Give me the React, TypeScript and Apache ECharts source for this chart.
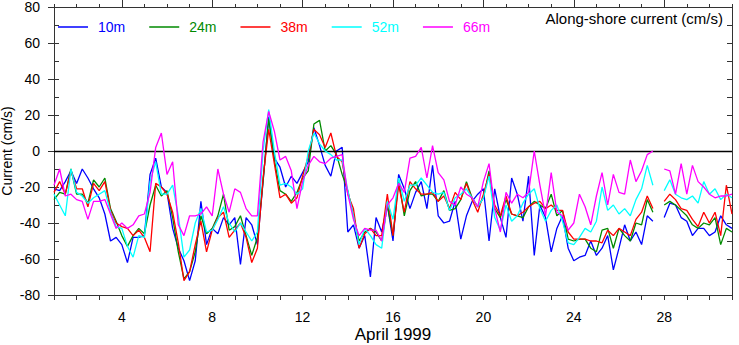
import { useEffect, useRef } from "react";
import * as echarts from "echarts";

// Time grid: April 1999, day of month, every 6 hours
const START_DAY = 1;
const STEP_DAYS = 0.25;

const depths = ["10m", "24m", "38m", "52m", "66m"];
const colors = ["#0000ff", "#008a00", "#ff0000", "#00ffff", "#ff00ff"];

const dayTicks = [1, 2, 3, 4, 5, 6, 7, 8, 9, 10, 11, 12, 13, 14, 15, 16, 17, 18, 19, 20, 21, 22, 23, 24, 25, 26, 27, 28, 29, 30, 31];
const labelDays = [4, 8, 12, 16, 20, 24, 28];

// along-shore current (cm/s), one row per day (00h, 06h, 12h, 18h)
const v10m = [
  -21, -22, -17, -11,
  -18, -10, -15, -21,
  -26, -35, -50, -48,
  -52, -62, -48, -48,
  -47, -13, -4, -20,
  -23, -43, -54, -61,
  -72, -61, -28, -52,
  -43, -46, -37, -41,
  -37, -63, -37, -41,
  -52, -17, 19, -4,
  -9, -20, -14, -18,
  -12, -6, 13, 3,
  -8, -14, 0, 2,
  -45, -41, -54, -47,
  -70, -37, -45, -30,
  -50, -13, -21, -32,
  -23, -17, -32, -8,
  -36, -40, -39, -28,
  -49, -36, -28, -24,
  -21, -50, -21, -37,
  -48, -15, -24, -39,
  -14, -58, -30, -37,
  -56, -43, -36, -54,
  -61, -59, -58, -50,
  -58, -54, -47, -66,
  -54, -41, -50, -45,
  -52, -36, -39, null,
  -37, -29, -30, -37,
  -39, -47, -43, -43,
  -47, -45, -36, -41,
  -43,
];

const v24m = [
  -27, -23, -24, -10,
  -24, -24, -29, -16,
  -20, -15, -32, -39,
  -47, -53, -47, -43,
  -46, -30, -19, -25,
  -22, -37, -56, -71,
  -67, -56, -36, -46,
  -43, -36, -24, -44,
  -42, -36, -47, -58,
  -48, -17, 18, -5,
  -22, -24, -28, -23,
  -15, -11, 15, 17,
  0, 3, -2, -13,
  -22, -36, -50, -45,
  -43, -45, -50, -30,
  -47, -16, -36, -22,
  -17, -25, -24, -24,
  -28, -22, -33, -32,
  -27, -17, -26, -31,
  -26, -11, -32, -37,
  -27, -35, -36, -37,
  -31, -28, -30, -32,
  -24, -36, -33, -49,
  -50, -49, -49, -54,
  -56, -44, -43, -54,
  -43, -47, -50, -40,
  -41, -27, -34, null,
  -30, -28, -30, -33,
  -36, -41, -43, -40,
  -41, -37, -52, -43,
  -45,
];

const v38m = [
  -23, -17, -24, -11,
  -21, -21, -31, -18,
  -22, -17, -33, -40,
  -42, -43, -47, -44,
  -48, -56, -18, -20,
  -24, -34, -51, -72,
  -67, -52, -39, -56,
  -44, -37, -34, -48,
  -44, -40, -48, -62,
  -54, -15, 12, -7,
  -26, -24, -29, -26,
  -14, -3, 12, 9,
  2, 10, -3, -6,
  -24, -32, -54, -46,
  -43, -47, -47, -24,
  -47, -19, -34, -17,
  -21, -24, -24, -23,
  -28, -25, -32, -23,
  -27, -18, -27, -34,
  -24, -13, -30, -36,
  -25, -35, -36, -34,
  -31, -29, -28, -32,
  -30, -33, -33, -45,
  -49, -49, -49, -50,
  -50, -51, -44, -47,
  -43, -45, -47, -38,
  -34, -25, -32, null,
  -28, -24, -27, -32,
  -33, -38, -42, -34,
  -40, -34, -47, -19,
  -35,
];

const v52m = [
  -24, -30, -36, -10,
  -23, -25, -29, -26,
  -24, -22, -34, -42,
  -43, -53, -59, -47,
  -48, -17, -6, -24,
  -24, -19, -36, -59,
  -55, -40, -32, -45,
  -44, -38, -31, -40,
  -45, -40, -45, -50,
  -45, 0, 23, 0,
  -19, -18, -20, -24,
  -21, 0, 10, 4,
  0, -2, -5, -5,
  -22, -36, -52, -43,
  -47, -52, -54, -28,
  -38, -15, -28, -19,
  -19, -15, -19, -23,
  -24, -23, -33, -26,
  -24, -21, -26, -31,
  -26, -14, -37, -44,
  -30, -39, -36, -29,
  -24, -21, -32, -39,
  -33, -30, -39, -51,
  -52, -48, -43, -45,
  -39, -20, -33, -30,
  -35, -32, -36, -27,
  -21, -8, -19, null,
  -22, -16, -24, -26,
  -27, -25, -29, -17,
  -24, -21, -27, -24,
  -26,
];

const v66m = [
  -19, -10, -25, -24,
  -27, -28, -38, -28,
  -28, -27, -35, -43,
  -40, -43, -41, -36,
  -35, -23, 2, 10,
  -13, -6, -41, -47,
  -36, -36, -35, -31,
  -36, -10, -24, -34,
  -21, -23, -32, -36,
  -36, 5, 22, 11,
  -5, -3, -11, -32,
  -17, -8, -3, -6,
  -7, -4, -3, -2,
  -24, -38, -47, -43,
  -44, -44, -50, -30,
  -26, -18, -23, -4,
  -3, 2, -15, 3,
  -12, -16, -28, -30,
  -20, -24, -26, -31,
  -17, -7, -32, -45,
  -23, -29, -24, -26,
  -23, 0, -19, -36,
  -12, -34, -36, -44,
  -40, -24, -31, -41,
  -25, -12, -30, -13,
  -23, -24, -5, -17,
  -11, -2, 0, null,
  -10, -11, -24, -7,
  -24, -8, -17, -20,
  -24, -26, -25, -25,
  -24,
];

const seriesValues = [v10m, v24m, v38m, v52m, v66m];

const FONT = "'Liberation Sans', Arial, Helvetica, sans-serif";
const AXIS_COLOR = "#333";

export default function App() {
  const ref = useRef<HTMLDivElement>(null);

  useEffect(() => {
    if (!ref.current) return;
    const chart = echarts.init(ref.current, undefined, { renderer: "svg" });

    const series = depths.map((name, si) => {
      const vals = seriesValues[si];
      const data = vals.map((v, i) => [START_DAY + i * STEP_DAYS, v]);
      const s: any = {
        name,
        type: "line",
        data,
        xAxisIndex: 0,
        yAxisIndex: 0,
        showSymbol: false,
        symbol: "none",
        connectNulls: false,
        lineStyle: { color: colors[si], width: 1.3 },
        itemStyle: { color: colors[si] },
        z: 2 + si,
      };
      if (si === depths.length - 1) {
        s.markLine = {
          silent: true,
          symbol: "none",
          label: { show: false },
          lineStyle: { color: "#000", width: 1.3, type: "solid" },
          data: [{ yAxis: 0 }],
        };
      }
      return s;
    });

    const baseX = {
      type: "value",
      min: 1,
      max: 31,
      splitLine: { show: false },
      axisLine: { show: true, onZero: false, lineStyle: { color: AXIS_COLOR, width: 1 } },
    };
    const baseY = {
      type: "value",
      min: -80,
      max: 80,
      splitLine: { show: false },
      axisLine: { show: true, onZero: false, lineStyle: { color: AXIS_COLOR, width: 1 } },
    };

    chart.setOption({
      animation: false,
      backgroundColor: "#fff",
      textStyle: { fontFamily: FONT },
      grid: { left: 54, right: 7, top: 7, bottom: 50, containLabel: false, outerBoundsMode: "none" },
      legend: {
        left: 53,
        top: 15,
        icon: "rect",
        itemWidth: 30,
        itemHeight: 1.5,
        itemGap: 24,
        data: depths.map((d, i) => ({ name: d, textStyle: { color: colors[i] } })),
        textStyle: { fontSize: 14, fontFamily: FONT, padding: [0, 0, 0, 5] },
      },
      graphic: [
        {
          type: "text",
          right: 16,
          top: 11,
          style: { text: "Along-shore current (cm/s)", fontSize: 15, fontFamily: FONT, fill: "#000" },
        },
      ],
      xAxis: [
        {
          ...baseX,
          position: "bottom",
          name: "April 1999",
          nameLocation: "middle",
          nameGap: 31,
          nameMoveOverlap: false,
          nameTextStyle: { fontSize: 17, color: "#000", fontFamily: FONT },
          axisTick: { show: true, customValues: dayTicks, length: 5, inside: false, lineStyle: { color: AXIS_COLOR } },
          axisLabel: { show: true, customValues: labelDays, fontSize: 14, color: "#000", margin: 15, fontFamily: FONT },
        },
        {
          ...baseX,
          position: "top",
          axisTick: { show: true, customValues: dayTicks, length: 3, inside: false, lineStyle: { color: AXIS_COLOR } },
          axisLabel: { show: false },
        },
        {
          ...baseX,
          position: "top",
          axisTick: { show: true, customValues: labelDays, length: 7, inside: false, lineStyle: { color: AXIS_COLOR } },
          axisLabel: { show: false },
        },
      ],
      yAxis: [
        {
          ...baseY,
          position: "left",
          interval: 20,
          name: "Current (cm/s)",
          nameLocation: "middle",
          nameGap: 40,
          nameMoveOverlap: false,
          nameTextStyle: { fontSize: 14, color: "#000", fontFamily: FONT },
          axisTick: { show: true, length: 6, inside: false, lineStyle: { color: AXIS_COLOR } },
          axisLabel: { fontSize: 14, color: "#000", margin: 14, fontFamily: FONT },
        },
        {
          ...baseY,
          position: "left",
          interval: 10,
          axisTick: { show: true, length: 5, inside: true, lineStyle: { color: AXIS_COLOR } },
          axisLabel: { show: false },
        },
        {
          ...baseY,
          position: "right",
          interval: 10,
          axisTick: { show: true, length: 5, inside: true, lineStyle: { color: AXIS_COLOR } },
          axisLabel: { show: false },
        },
      ],
      series,
    });

    return () => chart.dispose();
  }, []);

  return (
    <div
      ref={ref}
      style={{ position: "fixed", left: 0, top: 0, width: 739, height: 345, background: "#fff" }}
    />
  );
}
